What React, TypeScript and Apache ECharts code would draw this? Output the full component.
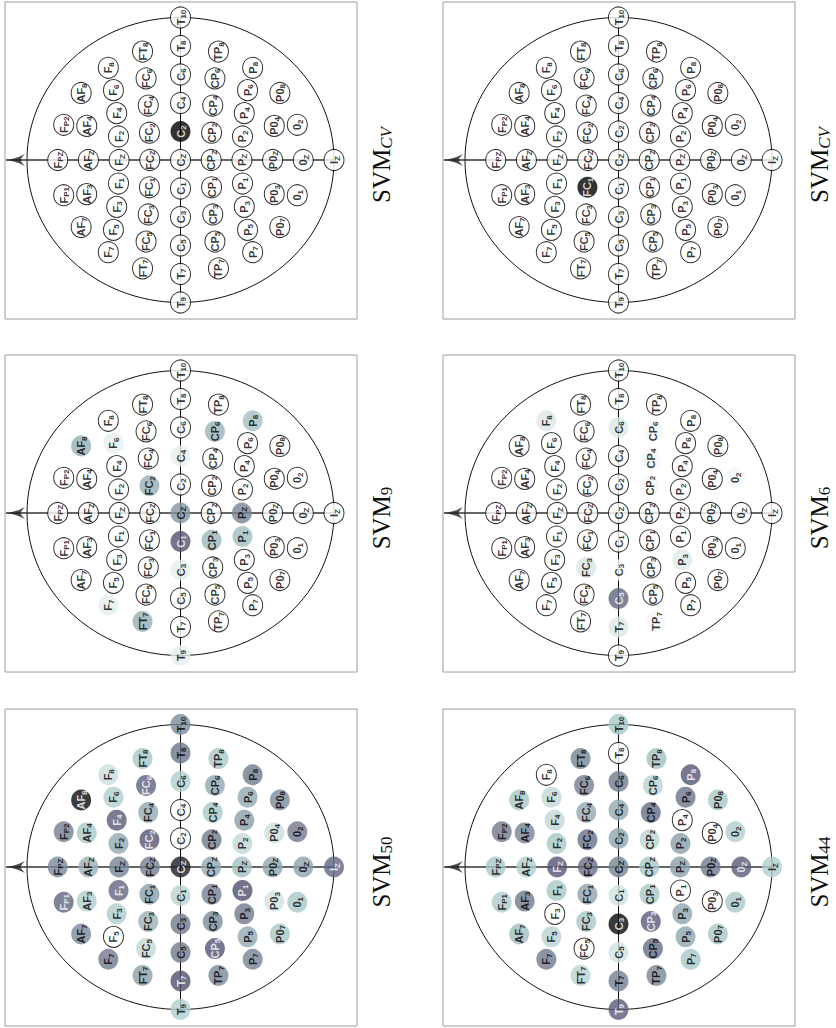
import React, { useEffect, useRef } from "react";
import * as echarts from "echarts";

// ---- montage ---------------------------------------------------------------
const electrodeNames = [
  "Fp1", "Fpz", "Fp2",
  "AF7", "AF3", "AFz", "AF4", "AF8",
  "F7", "F5", "F3", "F1", "Fz", "F2", "F4", "F6", "F8",
  "FT7", "FC5", "FC3", "FC1", "FCz", "FC2", "FC4", "FC6", "FT8",
  "T9", "T7", "C5", "C3", "C1", "Cz", "C2", "C4", "C6", "T8", "T10",
  "TP7", "CP5", "CP3", "CP1", "CPz", "CP2", "CP4", "CP6", "TP8",
  "P7", "P5", "P3", "P1", "Pz", "P2", "P4", "P6", "P8",
  "PO7", "PO3", "POz", "PO4", "PO8",
  "O1", "Oz", "O2",
  "Iz",
];

// ---- electrode weights per classifier (0 = electrode not used) --------------
const weightsCvA: Record<string, number> = { C2: 1 };
const weightsCvB: Record<string, number> = { FC1: 1 };

const weights9: Record<string, number> = {
  AF8: 0.33, F6: 0.07, F7: 0.08, FT7: 0.33, FC2: 0.33,
  T9: 0.07, C3: 0.08, C1: 0.63, Cz: 0.42, C4: 0.07,
  CP1: 0.3, CP6: 0.32, P1: 0.28, Pz: 0.47, P8: 0.27,
};

const weights6: Record<string, number> = {
  F8: 0.1, FC3: 0.11, T7: 0.1, C5: 0.57, C3: 0.01, C6: 0.1,
  TP7: 0.03, CP2: 0.04, CP4: 0.03, CP6: 0.03, P3: 0.09, O2: 0.03,
};

const weights50: Record<string, number> = {
  Fp1: 0.57, Fpz: 0.45, Fp2: 0.48,
  AF7: 0.45, AF3: 0.22, AFz: 0.32, AF4: 0.25, AF8: 0.95,
  F7: 0.5, F5: 0, F3: 0.23, F1: 0.57, Fz: 0.47, F2: 0.35, F4: 0.6, F6: 0.22, F8: 0.15,
  FT7: 0.38, FC5: 0.18, FC3: 0.32, FC1: 0.38, FCz: 0.48, FC2: 0.62, FC4: 0.35, FC6: 0.58, FT8: 0.25,
  T9: 0.22, T7: 0.64, C5: 0.5, C3: 0.5, C1: 0.2, Cz: 0.88, C2: 0, C4: 0, C6: 0.22, T8: 0.52, T10: 0.45,
  TP7: 0.45, CP5: 0.62, CP3: 0.45, CP1: 0.48, CPz: 0.35, CP2: 0.5, CP4: 0.25, CP6: 0.35, TP8: 0.25,
  P7: 0.47, P5: 0.35, P3: 0.5, P1: 0.65, Pz: 0.27, P2: 0.18, P4: 0.38, P6: 0.35, P8: 0.5,
  PO7: 0.25, PO3: 0.13, POz: 0.36, PO4: 0.15, PO8: 0.45,
  O1: 0.25, Oz: 0.37, O2: 0.5,
  Iz: 0.57,
};

const weights44: Record<string, number> = {
  Fp1: 0.23, Fpz: 0.25, Fp2: 0.5,
  AF7: 0.28, AF3: 0.5, AFz: 0.22, AF4: 0.47, AF8: 0.25,
  F7: 0.5, F5: 0.2, F3: 0, F1: 0.25, Fz: 0.62, F2: 0.25, F4: 0.18, F6: 0.18, F8: 0,
  FT7: 0.2, FC5: 0, FC3: 0.25, FC1: 0.37, FCz: 0.53, FC2: 0.53, FC4: 0.35, FC6: 0.48, FT8: 0.47,
  T9: 0.6, T7: 0.48, C5: 0.13, C3: 0.97, C1: 0.13, Cz: 0.47, C2: 0.36, C4: 0.35, C6: 0.5, T8: 0, T10: 0.25,
  TP7: 0.45, CP5: 0.54, CP3: 0.6, CP1: 0.25, CPz: 0.25, CP2: 0.19, CP4: 0.54, CP6: 0.2, TP8: 0.27,
  P7: 0.25, P5: 0.36, P3: 0.36, P1: 0, Pz: 0.38, P2: 0.38, P4: 0, P6: 0.52, P8: 0.62,
  PO7: 0.25, PO3: 0, POz: 0.5, PO4: 0, PO8: 0.25,
  O1: 0.25, Oz: 0.6, O2: 0.22,
  Iz: 0.22,
};

const panelWeights = [weightsCvA, weightsCvB, weights9, weights6, weights50, weights44];
const panelSubscripts = ["CV", "CV", "9", "6", "50", "44"];
const panelSubscriptItalic = [true, true, false, false, false, false];

// ---- page geometry ----------------------------------------------------------
const BOX_X = [5, 443];
const BOX_Y = [2, 355, 709];
const BOX_W = 352;
const BOX_H = 317;
const HEAD_CX = 175.5; // head centre inside a box, px
const HEAD_CY = 158;
const UNIT_X = 30.7; // px per 10 % step along the nose-inion line
const UNIT_Y = 28.5; // px per 10 % step along the ear-ear line
const HEAD_R = 5; // outer circle (Nz, T9, Iz, T10) in 10 % steps

// ---- 10-10 positions on a sphere, azimuthal equidistant projection ----------
type V3 = [number, number, number];
const D = Math.PI / 180;
const STEP = 18; // degrees per 10 % step

const sph = (theta: number, phi: number): V3 => [
  Math.sin(theta * D) * Math.cos(phi * D),
  Math.sin(theta * D) * Math.sin(phi * D),
  Math.cos(theta * D),
];

// point on the arc through a lateral electrode, its mirror and a midline electrode
function arcPoint(lateral: V3, mid: V3, f: number): V3 {
  const dx = mid[0] - lateral[0];
  const dz = mid[2] - lateral[2];
  const len = Math.hypot(dx, dz);
  const n = [dz / len, 0, -dx / len];
  const s = n[0] * mid[0] + n[2] * mid[2];
  const c = [s * n[0], 0, s * n[2]];
  const rho = Math.sqrt(1 - s * s);
  const e2 = [(mid[0] - c[0]) / rho, 0, (mid[2] - c[2]) / rho];
  const ly = lateral[1];
  const lz = (lateral[0] - c[0]) * e2[0] + (lateral[2] - c[2]) * e2[2];
  const a = f * Math.atan2(ly, lz);
  return [c[0] + rho * Math.cos(a) * e2[0], rho * Math.sin(a), c[2] + rho * Math.cos(a) * e2[2]];
}

const ringAzimuth: Record<string, number> = {
  Fp1: -18, Fpz: 0, Fp2: 18, AF7: -36, AF8: 36, F7: -54, F8: 54, FT7: -72, FT8: 72,
  T7: -90, T8: 90, TP7: -108, TP8: 108, P7: -126, P8: 126, PO7: -144, PO8: 144,
  O1: -162, Oz: 180, O2: 162,
};
const fixedSpherical: Record<string, [number, number]> = {
  T9: [90, -90], T10: [90, 90], Iz: [90, 180],
  C5: [54, -90], C3: [36, -90], C1: [18, -90], Cz: [0, 0], C2: [18, 90], C4: [36, 90], C6: [54, 90],
  AFz: [54, 0], Fz: [36, 0], FCz: [18, 0], CPz: [18, 180], Pz: [36, 180], POz: [54, 180],
};
const arcRows: Record<string, { lateral: number; mid: string; steps: number }> = {
  AF: { lateral: 36, mid: "AFz", steps: 2 },
  F: { lateral: 54, mid: "Fz", steps: 4 },
  FC: { lateral: 72, mid: "FCz", steps: 4 },
  CP: { lateral: 108, mid: "CPz", steps: 4 },
  P: { lateral: 126, mid: "Pz", steps: 4 },
  PO: { lateral: 144, mid: "POz", steps: 2 },
};

function sphericalPosition(name: string): V3 {
  if (name in ringAzimuth) return sph(72, ringAzimuth[name]);
  if (name in fixedSpherical) return sph(fixedSpherical[name][0], fixedSpherical[name][1]);
  const m = name.match(/^([A-Z]+)(\d+)$/)!;
  const row = arcRows[m[1]];
  const k = parseInt(m[2], 10);
  const side = k % 2 === 1 ? -1 : 1;
  const f = row.steps === 4 ? Math.ceil(k / 2) / 4 : 0.5;
  const midSph = fixedSpherical[row.mid];
  return arcPoint(sph(72, side * row.lateral), sph(midSph[0], midSph[1]), f);
}

// x: towards the inion (nose on the left), y: towards the right ear (T10 on top)
function electrodePosition(name: string): [number, number] {
  const v = sphericalPosition(name);
  const n = Math.hypot(v[0], v[1], v[2]);
  const r = Math.acos(v[2] / n) / D / STEP;
  const phi = Math.atan2(v[1], v[0]);
  return [-r * Math.cos(phi), r * Math.sin(phi)];
}

function labelParts(name: string): [string, string] {
  if (name.startsWith("Fp")) return ["F", name.slice(1).toUpperCase()];
  const m = name.match(/^([A-Z]+)(.*)$/)!;
  const base = m[1].replace(/O/g, "0");
  return [base, m[2].toUpperCase()];
}

// MATLAB-style "bone" colour map, t = 0 black ... 1 white
function bone(t: number): string {
  const c = (x: number) => Math.max(0, Math.min(1, x));
  const hr = c(t / 0.375);
  const hg = c((t - 0.375) / 0.375);
  const hb = c((t - 0.75) / 0.25);
  const r = (7 * t + hb) / 8;
  const g = (7 * t + hg) / 8;
  const b = (7 * t + hr) / 8;
  return `rgb(${Math.round(r * 255)},${Math.round(g * 255)},${Math.round(b * 255)})`;
}

const SANS = "'Liberation Sans', Arial, Helvetica, sans-serif";
const SERIF = "'Liberation Serif', 'Times New Roman', serif";
const ARROW_PATH =
  "path://M6,0 C6.6,6 8.6,13 12,19 C9.6,16.6 7.6,15.2 6,14.6 C4.4,15.2 2.4,16.6 0,19 C3.4,13 5.4,6 6,0 Z";

export default function App() {
  const ref = useRef<HTMLDivElement>(null);

  useEffect(() => {
    if (!ref.current) return;
    const chart = echarts.init(ref.current, undefined, { renderer: "svg" });

    const grids: any[] = [];
    const xAxes: any[] = [];
    const yAxes: any[] = [];
    const series: any[] = [];
    const graphics: any[] = [];

    const xMin = -HEAD_CX / UNIT_X;
    const xMax = (BOX_W - HEAD_CX) / UNIT_X;
    const yMax = HEAD_CY / UNIT_Y;
    const yMin = -(BOX_H - HEAD_CY) / UNIT_Y;
    const arrowTip = (1 - HEAD_CX) / UNIT_X;

    panelWeights.forEach((weights, i) => {
      const row = Math.floor(i / 2);
      const col = i % 2;
      const left = BOX_X[col];
      const top = BOX_Y[row];

      grids.push({
        left, top, width: BOX_W, height: BOX_H,
        show: true, borderColor: "#9c9c9c", borderWidth: 1, backgroundColor: "transparent",
      });
      xAxes.push({ gridIndex: i, type: "value", min: xMin, max: xMax, show: false });
      yAxes.push({ gridIndex: i, type: "value", min: yMin, max: yMax, show: false });

      // head outline
      series.push({
        type: "custom",
        xAxisIndex: i, yAxisIndex: i,
        z: 1, silent: true,
        data: [[0, 0]],
        renderItem: (params: any, api: any) => {
          const c = api.coord([api.value(0), api.value(1)]);
          const s = api.size([HEAD_R, HEAD_R]);
          return {
            type: "ellipse",
            shape: { cx: c[0], cy: c[1], rx: s[0], ry: s[1] },
            style: { fill: "none", stroke: "#111", lineWidth: 1 },
          };
        },
      });

      // ear-to-ear line
      series.push({
        type: "line", xAxisIndex: i, yAxisIndex: i, z: 2, silent: true,
        symbol: "none",
        data: [electrodePosition("T9"), electrodePosition("T10")],
        lineStyle: { color: "#111", width: 1 },
      });
      // nose-to-inion line
      series.push({
        type: "line", xAxisIndex: i, yAxisIndex: i, z: 2, silent: true,
        symbol: "none",
        data: [[arrowTip, 0], electrodePosition("Iz")],
        lineStyle: { color: "#333", width: 1.6 },
      });
      // arrow head at the nose
      series.push({
        type: "scatter", xAxisIndex: i, yAxisIndex: i, z: 3, silent: true,
        data: [[arrowTip, 0]],
        symbol: ARROW_PATH,
        symbolSize: [12, 19],
        symbolRotate: 90,
        symbolOffset: [9.5, 0],
        itemStyle: { color: "#222" },
      });

      // electrodes
      series.push({
        type: "scatter", xAxisIndex: i, yAxisIndex: i, z: 5, silent: true,
        symbol: "circle",
        symbolSize: [20, 21],
        data: electrodeNames.map((name) => {
          const w = weights[name] || 0;
          return {
            name,
            value: electrodePosition(name),
            itemStyle: w > 0
              ? { color: bone(1 - w), borderWidth: 0 }
              : { color: "#fff", borderColor: "#000", borderWidth: 1 },
            label: { color: w >= 0.57 ? "#fff" : "#000" },
          };
        }),
        label: {
          show: true,
          position: "inside",
          rotate: 90,
          formatter: (p: any) => {
            const [b, s] = labelParts(p.name);
            return `{b|${b}}{s|${s}}`;
          },
          rich: {
            b: { fontFamily: SANS, fontWeight: "bold", fontSize: 11, lineHeight: 14 },
            s: { fontFamily: SANS, fontWeight: "bold", fontSize: 8, lineHeight: 7, verticalAlign: "bottom" },
          },
        },
      });

      // classifier name beside the box
      const subKey = panelSubscriptItalic[i] ? "si" : "s";
      graphics.push({
        type: "text",
        x: left + BOX_W + 24,
        y: top + HEAD_CY + 5,
        rotation: Math.PI / 2,
        silent: true,
        style: {
          text: `{m|SVM}{${subKey}|${panelSubscripts[i]}}`,
          align: "center",
          verticalAlign: "middle",
          fill: "#111",
          rich: {
            m: { fontFamily: SERIF, fontSize: 25, lineHeight: 28, fill: "#111" },
            s: { fontFamily: SERIF, fontSize: 17, lineHeight: 12, verticalAlign: "bottom", fill: "#111" },
            si: { fontFamily: SERIF, fontSize: 17, fontStyle: "italic", lineHeight: 12, verticalAlign: "bottom", fill: "#111" },
          },
        },
      });
    });

    chart.setOption({
      animation: false,
      backgroundColor: "#fff",
      grid: grids,
      xAxis: xAxes,
      yAxis: yAxes,
      series,
      graphic: graphics,
    });

    return () => chart.dispose();
  }, []);

  return (
    <div
      ref={ref}
      style={{ position: "absolute", left: 0, top: 0, width: 836, height: 1028, background: "#fff" }}
    />
  );
}
